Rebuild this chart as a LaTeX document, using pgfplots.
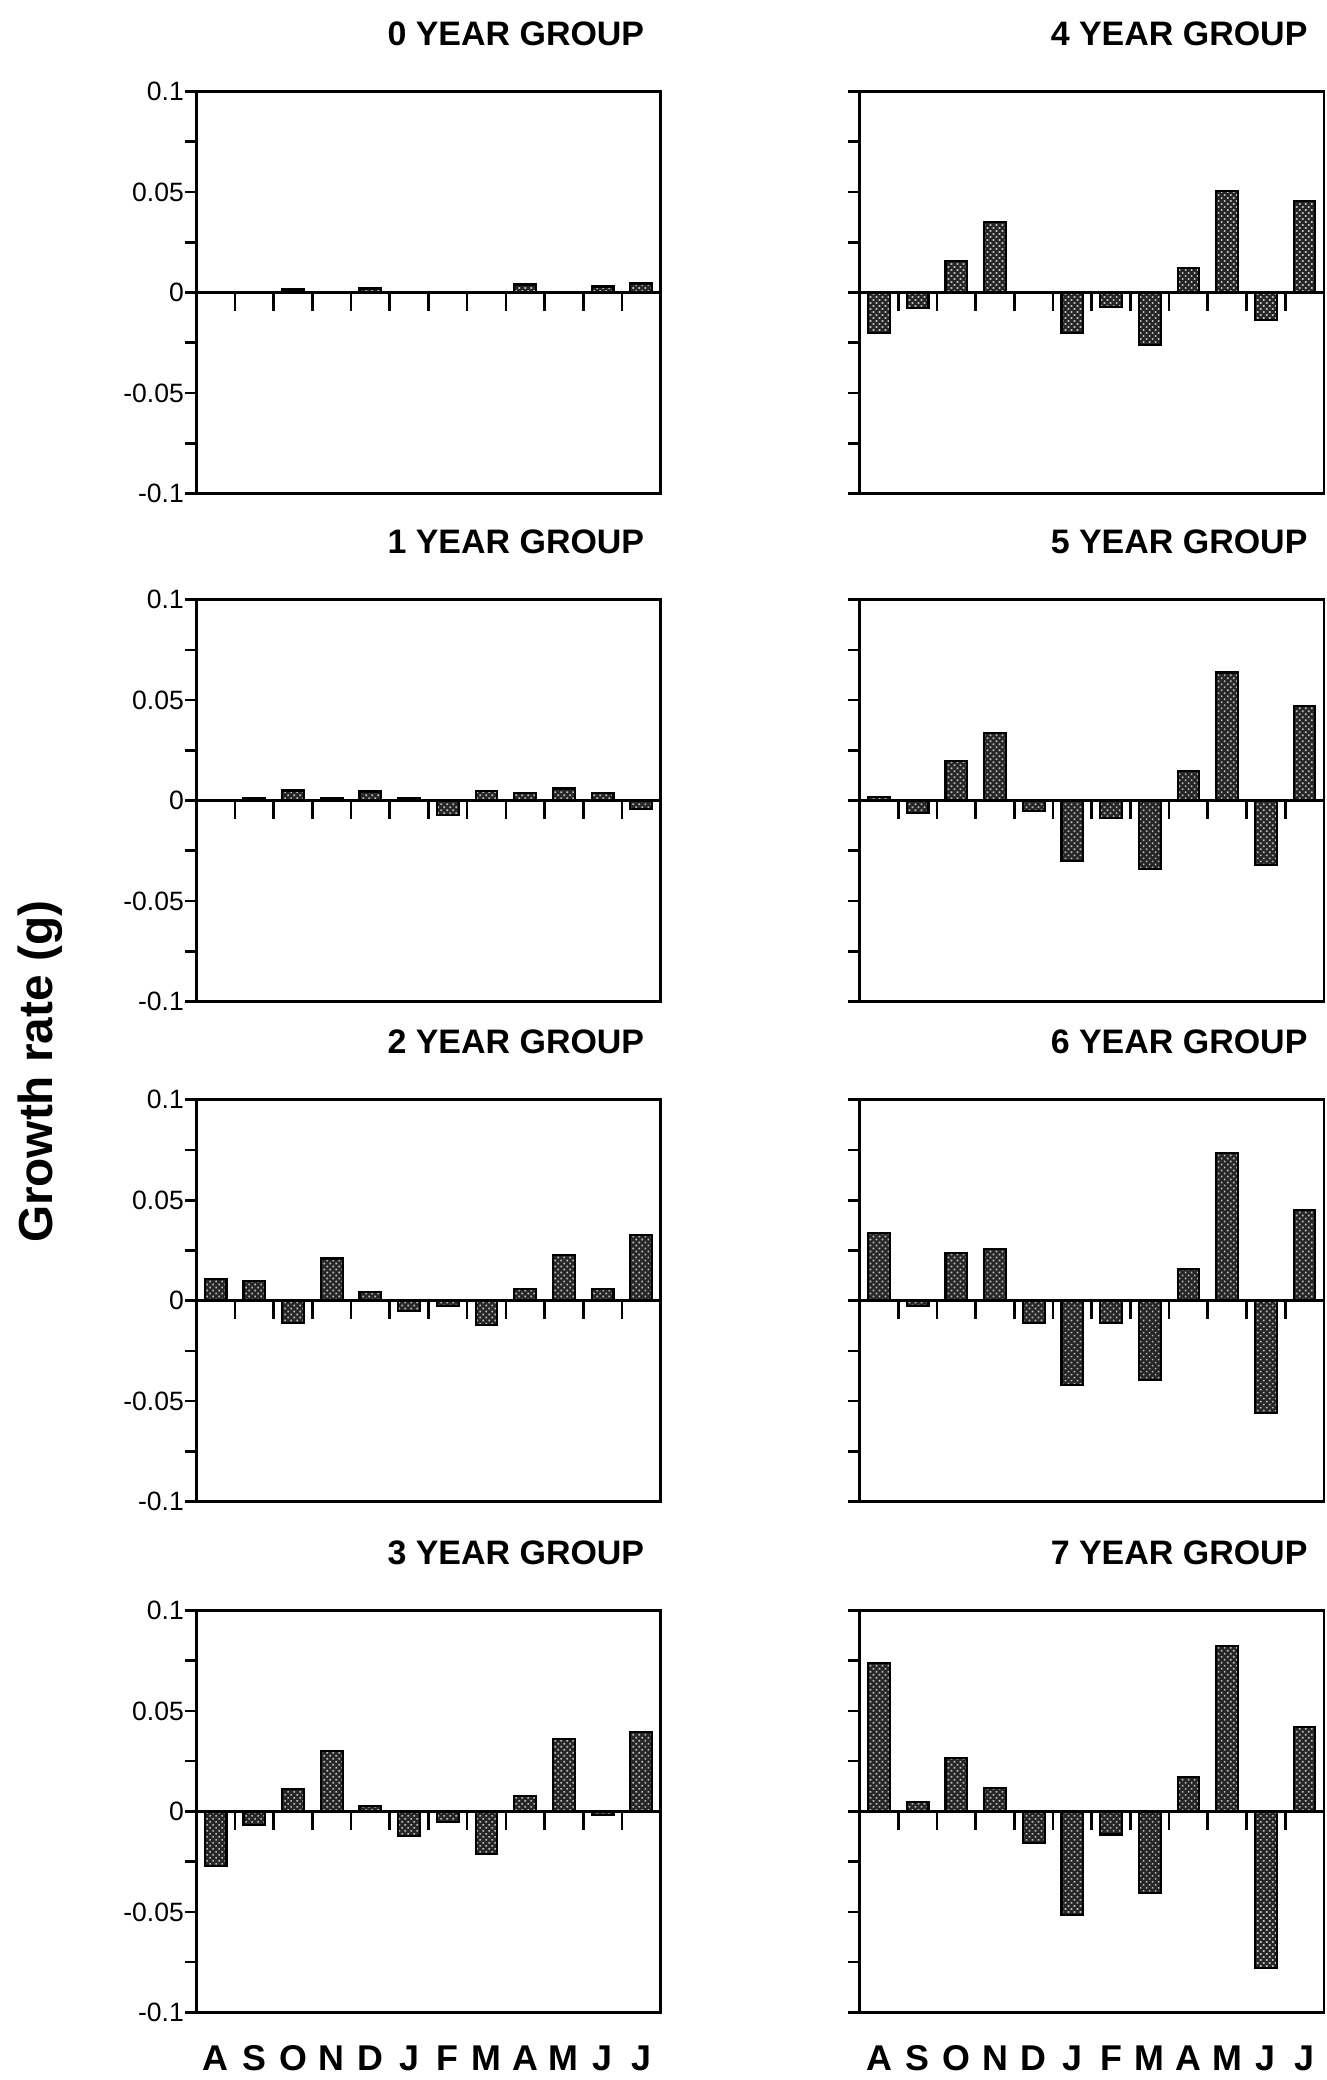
\documentclass[border=0pt]{standalone}
\usepackage{fontspec}
\setmainfont{Liberation Sans}
\usepackage{pgfplots}
\pgfplotsset{compat=1.18}
\usetikzlibrary{patterns.meta}

\pgfplotsset{
  panel/.style={
    scale only axis, width=175pt, height=151.5pt,
    xmin=-0.5, xmax=11.5, ymin=-0.1, ymax=0.1,
    axis line style={line width=1pt},
    ytick={-0.1,-0.075,-0.05,-0.025,0,0.025,0.05,0.075,0.1},
    ytick pos=left, ytick align=outside,
    major tick length=4.2pt,
    every tick/.style={black, line width=1pt},
    xtick=\empty,
    yticklabel style={font=\fontsize{10}{12}\selectfont, xshift=3pt},
    title style={at={(1,1)}, anchor=base east, inner sep=0pt, yshift=11.5pt, xshift=-6pt, font=\bfseries\fontsize{12.8}{15}\selectfont},
    clip=false,
  },
  leftp/.style={yticklabels={-0.1,,-0.05,,0,,0.05,,0.1}},
  rightp/.style={yticklabels={}},
  bottomp/.style={xtick={0,...,11}, xticklabels={A,S,O,N,D,J,F,M,A,M,J,J}, xtick style={draw=none}, xticklabel style={font=\bfseries\fontsize{13.5}{16}\selectfont, yshift=-9pt}},
  barst/.style={ybar, bar width=8.2pt, draw=black, line width=0.8pt, preaction={fill=black!85}, pattern={Dots[distance=1.6pt,radius=0.45pt,angle=45]}, pattern color=white!75!black},
}
\newcommand{\zeroline}{%
  \draw[line width=1pt] (axis cs:-0.5,0) -- (axis cs:11.5,0);
  \pgfplotsinvokeforeach{0.5,1.5,...,10.5}{\draw[line width=1pt] (axis cs:##1,0) -- ++(0pt,-7pt);}%
}

\begin{document}
\begin{tikzpicture}
\useasboundingbox (0,0) rectangle (500pt,-784pt);
\node[rotate=90, font=\bfseries\fontsize{18}{21}\selectfont] at (15pt,-404pt) {Growth rate (g)};

% 0 YEAR GROUP
\begin{axis}[panel,leftp,at={(74pt,-34.5pt)},anchor=north west,title={0 YEAR GROUP}]
\addplot[barst] coordinates {(2,0.0015) (4,0.002) (8,0.004) (10,0.003) (11,0.0045)};
\zeroline
\end{axis}

% 1 YEAR GROUP
\begin{axis}[panel,leftp,at={(74pt,-226pt)},anchor=north west,title={1 YEAR GROUP}]
\addplot[barst] coordinates {(1,0.001) (2,0.005) (3,0.001) (4,0.0045) (5,0.0012) (6,-0.0072) (7,0.0048) (8,0.0036) (9,0.006) (10,0.0038) (11,-0.004)};
\zeroline
\end{axis}

% 2 YEAR GROUP
\begin{axis}[panel,leftp,at={(74pt,-414.5pt)},anchor=north west,title={2 YEAR GROUP}]
\addplot[barst] coordinates {(0,0.011) (1,0.010) (2,-0.011) (3,0.021) (4,0.0045) (5,-0.005) (6,-0.0025) (7,-0.012) (8,0.006) (9,0.0228) (10,0.006) (11,0.0325)};
\zeroline
\end{axis}

% 3 YEAR GROUP
\begin{axis}[panel,leftp,bottomp,at={(74pt,-607pt)},anchor=north west,title={3 YEAR GROUP}]
\addplot[barst] coordinates {(0,-0.027) (1,-0.0066) (2,0.011) (3,0.030) (4,0.0028) (5,-0.0124) (6,-0.0053) (7,-0.021) (8,0.0078) (9,0.0359) (10,-0.002) (11,0.0393)};
\zeroline
\end{axis}

% 4 YEAR GROUP
\begin{axis}[panel,rightp,at={(324pt,-34.5pt)},anchor=north west,title={4 YEAR GROUP}]
\addplot[barst] coordinates {(0,-0.020) (1,-0.0077) (2,0.0156) (3,0.035) (5,-0.020) (6,-0.0074) (7,-0.026) (8,0.012) (9,0.0507) (10,-0.0135) (11,0.0457)};
\zeroline
\end{axis}

% 5 YEAR GROUP
\begin{axis}[panel,rightp,at={(324pt,-226pt)},anchor=north west,title={5 YEAR GROUP}]
\addplot[barst] coordinates {(0,0.0016) (1,-0.006) (2,0.0196) (3,0.0336) (4,-0.005) (5,-0.030) (6,-0.0087) (7,-0.034) (8,0.0146) (9,0.0637) (10,-0.032) (11,0.047)};
\zeroline
\end{axis}

% 6 YEAR GROUP
\begin{axis}[panel,rightp,at={(324pt,-414.5pt)},anchor=north west,title={6 YEAR GROUP}]
\addplot[barst] coordinates {(0,0.0337) (1,-0.0028) (2,0.0238) (3,0.0255) (4,-0.0113) (5,-0.0418) (6,-0.0113) (7,-0.0395) (8,0.0156) (9,0.0737) (10,-0.056) (11,0.045)};
\zeroline
\end{axis}

% 7 YEAR GROUP
\begin{axis}[panel,rightp,bottomp,at={(324pt,-607pt)},anchor=north west,title={7 YEAR GROUP}]
\addplot[barst] coordinates {(0,0.0739) (1,0.0048) (2,0.0266) (3,0.0118) (4,-0.0156) (5,-0.0517) (6,-0.0115) (7,-0.0404) (8,0.0171) (9,0.0824) (10,-0.078) (11,0.0419)};
\zeroline
\end{axis}
\end{tikzpicture}
\end{document}
